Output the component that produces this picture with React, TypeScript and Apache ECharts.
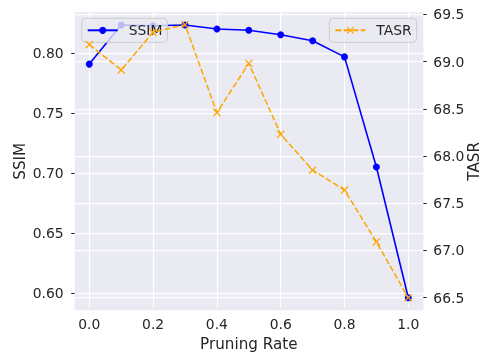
import React, { useEffect, useRef } from "react";
import * as echarts from "echarts";

const pruningRates = [0.0, 0.1, 0.2, 0.3, 0.4, 0.5, 0.6, 0.7, 0.8, 0.9, 1.0];
const ssimValues = [0.791, 0.8236, 0.823, 0.8236, 0.8203, 0.8192, 0.8155, 0.8105, 0.797, 0.7053, 0.5963];
const tasrValues = [69.18, 68.91, 69.31, 69.39, 68.46, 68.98, 68.23, 67.85, 67.64, 67.09, 66.5];

const FONT = "DejaVu Sans";
const TEXT = "#262626";
const BG = "#EAEAF2";
const X_MARK = "path://M0,1.1L1.1,0L5,3.9L8.9,0L10,1.1L6.1,5L10,8.9L8.9,10L5,6.1L1.1,10L0,8.9L3.9,5Z";

const PL = 74.7, PT = 12.3, PR = 423.3, PB = 310.3;
const X0 = 89.3, X1 = 408.3;
const xMin = -(X0 - PL) / (X1 - X0);
const xMax = 1 + (PR - X1) / (X1 - X0);

const off = { axisLine: { show: false }, axisTick: { show: false }, axisLabel: { show: false }, splitLine: { show: false } };

function buildOption(noZero: boolean, withGraphic: boolean) {
  const hiddenX = (gi: number, min: number, max: number) => ({ type: "value", gridIndex: gi, min, max, ...off });
  const split = { show: true, lineStyle: { color: "#FFFFFF", width: 1.25 } };
  const legendText: any = { color: TEXT, fontSize: 13.9, fontFamily: FONT, padding: [0, 0, 0, 6] };
  const yLine: any = noZero ? { show: false, onZero: false } : { show: false };
  const opt: any = {
    animation: false,
    textStyle: { fontFamily: FONT },
    grid: [
      { left: PL, top: PT, width: PR - PL, height: PB - PT, show: true, backgroundColor: BG, borderWidth: 0 },
      { left: X0, top: PT, width: X1 - X0, height: PB - PT },
      { left: PL, top: 53.3, width: PR - PL, height: 240 },
      { left: PL, top: 14.3, width: PR - PL, height: 283.4 },
    ],
    xAxis: [
      hiddenX(0, 0, 1),
      {
        type: "value", gridIndex: 1, min: 0, max: 1, interval: 0.2,
        axisLine: { show: false }, axisTick: { show: false },
        axisLabel: { color: TEXT, fontSize: 13.9, fontFamily: FONT, margin: 9, formatter: (val: number) => val.toFixed(1) },
        splitLine: split,
        name: "Pruning Rate", nameLocation: "middle", nameGap: 27,
        nameTextStyle: { color: TEXT, fontSize: 15.2, fontFamily: FONT },
      },
      hiddenX(2, xMin, xMax),
      hiddenX(3, xMin, xMax),
    ],
    yAxis: [
      {
        type: "value", gridIndex: 0, position: "left", min: 0, max: 1, ...off,
        name: "SSIM", nameLocation: "middle", nameGap: 47,
        nameTextStyle: { color: TEXT, fontSize: 15.2, fontFamily: FONT },
      },
      withGraphic
        ? { type: "value", gridIndex: 1, position: "right", min: 0, max: 1, ...off }
        : {
            type: "value", gridIndex: 1, position: "right", min: 0, max: 1, ...off,
            name: "TASR", nameLocation: "middle", nameGap: 57,
            nameTextStyle: { color: TEXT, fontSize: 15.2, fontFamily: FONT },
          },
      {
        type: "value", gridIndex: 2, position: "left", min: 0.6, max: 0.8, interval: 0.05,
        axisLine: yLine,
        axisTick: { show: true, length: 3.5, lineStyle: { color: TEXT, width: 1 } },
        axisLabel: { color: TEXT, fontSize: 13.9, fontFamily: FONT, margin: 11, formatter: (val: number) => val.toFixed(2) },
        splitLine: split,
      },
      {
        type: "value", gridIndex: 3, position: "right", min: 66.5, max: 69.5, interval: 0.5,
        axisLine: yLine,
        axisTick: { show: true, length: 3.5, lineStyle: { color: TEXT, width: 1 } },
        axisLabel: { color: TEXT, fontSize: 13.9, fontFamily: FONT, margin: 10, formatter: (val: number) => val.toFixed(1) },
        splitLine: split,
      },
    ],
    legend: [
      {
        data: ["SSIM"], left: 81.7, top: 18.3, z: 3,
        itemWidth: 30, itemHeight: 9, padding: [5, 5, 5, 5],
        backgroundColor: "rgba(234,234,242,0.8)", borderColor: "#CCCCCC", borderWidth: 1, borderRadius: 4,
        textStyle: legendText,
      },
      {
        data: ["TASR"], right: 483 - 416.7, top: 18.3, z: 5,
        itemWidth: 30, itemHeight: 9, padding: [5, 5, 5, 5],
        backgroundColor: "rgba(234,234,242,0.8)", borderColor: "#CCCCCC", borderWidth: 1, borderRadius: 4,
        textStyle: legendText,
      },
    ],
    series: [
      {
        name: "SSIM", type: "line", xAxisIndex: 2, yAxisIndex: 2, z: 2,
        data: pruningRates.map((x, i) => [x, ssimValues[i]]),
        clip: false,
        symbol: "circle", symbolSize: 7,
        itemStyle: { color: "#0000FF" },
        lineStyle: { color: "#0000FF", width: 1.6 },
      },
      {
        name: "TASR", type: "line", xAxisIndex: 3, yAxisIndex: 3, z: 4,
        data: pruningRates.map((x, i) => [x, tasrValues[i]]),
        clip: false,
        symbol: X_MARK, symbolSize: 8,
        itemStyle: { color: "#FFA500" },
        lineStyle: { color: "#FFA500", width: 1.5, type: [6, 2.5] },
      },
    ],
  };
  if (withGraphic) {
    opt.graphic = [
      {
        type: "text", x: 473.5, y: (PT + PB) / 2, rotation: Math.PI / 2, silent: true,
        style: { text: "TASR", fill: TEXT, fontSize: 15.2, fontFamily: FONT, align: "center", verticalAlign: "middle" },
      },
    ];
  }
  return opt;
}

export default function App() {
  const ref = useRef<HTMLDivElement>(null);
  useEffect(() => {
    if (!ref.current) return;
    let chart: any = null;
    const attempts: [boolean, boolean][] = [[true, true], [false, true], [true, false], [false, false]];
    for (const [a, b] of attempts) {
      try {
        chart = echarts.init(ref.current, null, { renderer: "svg" });
        chart.setOption(buildOption(a, b));
        break;
      } catch (e) {
        try { chart && chart.dispose(); } catch (_) {}
        chart = null;
      }
    }
    return () => { chart && chart.dispose(); };
  }, []);
  return <div ref={ref} style={{ position: "fixed", left: 0, top: 0, width: 483, height: 356 }} />;
}
